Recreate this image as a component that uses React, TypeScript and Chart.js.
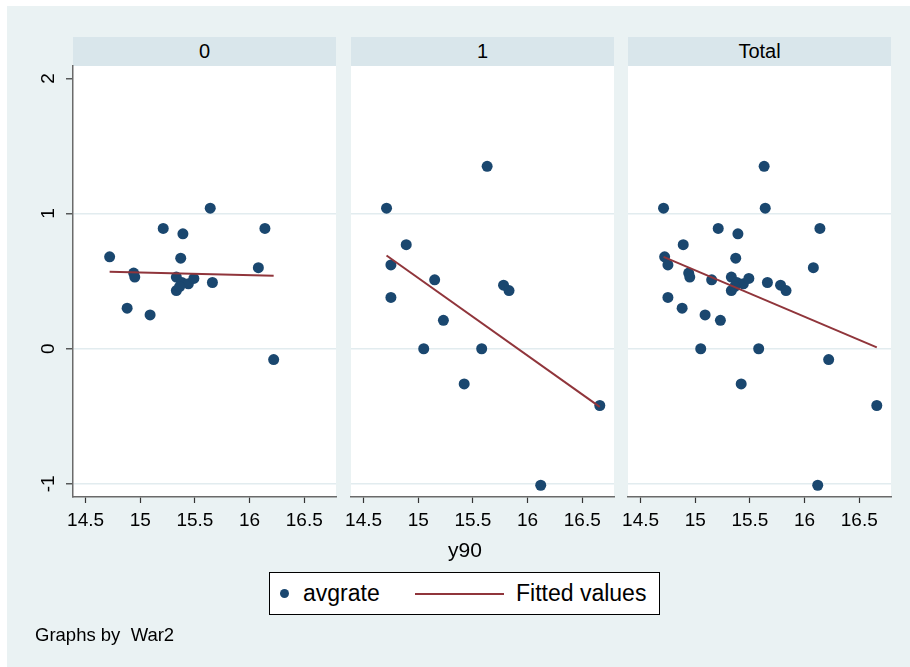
import React, { useEffect, useRef } from "react";
import { Chart, registerables } from "chart.js";

Chart.register(...registerables);

// ---------- data ----------
const GROUPS = ["0", "1", "Total"];

// War2 = 0
const G0_X = [15.64, 15.21, 15.39, 16.14, 14.72, 15.37, 16.08, 14.94, 14.95, 15.33, 15.38, 15.44, 15.49, 15.33, 15.36, 15.66, 14.88, 15.09, 16.22];
const G0_Y = [1.04, 0.89, 0.85, 0.89, 0.68, 0.67, 0.6, 0.56, 0.53, 0.53, 0.49, 0.48, 0.52, 0.43, 0.46, 0.49, 0.3, 0.25, -0.08];

// War2 = 1
const G1_X = [15.63, 14.71, 14.89, 14.75, 14.75, 15.15, 15.78, 15.83, 15.23, 15.05, 15.58, 15.42, 16.66, 16.12];
const G1_Y = [1.35, 1.04, 0.77, 0.62, 0.38, 0.51, 0.47, 0.43, 0.21, 0.0, 0.0, -0.26, -0.42, -1.01];

// fitted values (end points of each fitted line)
const FIT0_X = [14.72, 16.22];
const FIT0_Y = [0.57, 0.54];
const FIT1_X = [14.71, 16.66];
const FIT1_Y = [0.69, -0.43];
const FITT_X = [14.71, 16.66];
const FITT_Y = [0.68, 0.01];

const X_TICKS = [14.5, 15, 15.5, 16, 16.5];
const Y_TICKS = [-1, 0, 1, 2];
const X_MIN = 14.385;
const X_MAX = 16.79;
const Y_MIN = -1.097;
const Y_MAX = 2.092;

const X_TITLE = "y90";
const LEGEND_SCATTER = "avgrate";
const LEGEND_FIT = "Fitted values";
const NOTE = "Graphs by  War2";

// ---------- style ----------
const W = 910;
const H = 667;
const FONT = "'Liberation Sans', Arial, sans-serif";
const BG = "rgb(234,242,243)";
const STRIP = "rgb(217,230,235)";
const GRID = "rgb(226,236,239)";
const NAVY = "#1a476f";
const MAROON = "#90353b";
const AXIS = "#6a6a6a";
const PANEL_LEFT = [73, 351, 628];
const PANEL_W = 263;
const PLOT_TOP = 66;
const PLOT_BOTTOM = 497;
const X_AXIS_H = 60;

const whitePlot = {
  id: "whitePlot",
  beforeDraw(chart: any) {
    const { ctx, chartArea } = chart;
    ctx.save();
    ctx.fillStyle = "#ffffff";
    ctx.fillRect(chartArea.left, chartArea.top, chartArea.right - chartArea.left, chartArea.bottom - chartArea.top);
    ctx.restore();
  },
};

function Panel({ idx }: { idx: number }) {
  const ref = useRef<HTMLCanvasElement | null>(null);
  useEffect(() => {
    const xs = idx === 0 ? G0_X : idx === 1 ? G1_X : [...G0_X, ...G1_X];
    const ys = idx === 0 ? G0_Y : idx === 1 ? G1_Y : [...G0_Y, ...G1_Y];
    const fx = idx === 0 ? FIT0_X : idx === 1 ? FIT1_X : FITT_X;
    const fy = idx === 0 ? FIT0_Y : idx === 1 ? FIT1_Y : FITT_Y;
    const pts = xs.map((x, i) => ({ x, y: ys[i] }));
    const fit = fx.map((x, i) => ({ x, y: fy[i] }));
    const left = PANEL_LEFT[idx];
    const yW = idx === 0 ? 53 : 0;
    const chart = new Chart(ref.current as HTMLCanvasElement, {
      type: "scatter",
      data: {
        datasets: [
          {
            label: LEGEND_FIT,
            data: fit,
            showLine: true,
            borderColor: MAROON,
            borderWidth: 2,
            pointRadius: 0,
            pointHoverRadius: 0,
          } as any,
          {
            label: LEGEND_SCATTER,
            data: pts,
            backgroundColor: NAVY,
            borderColor: NAVY,
            borderWidth: 0,
            pointRadius: 5.5,
          },
        ],
      },
      options: {
        animation: false,
        responsive: false,
        maintainAspectRatio: false,
        events: [],
        layout: {
          padding: {
            left: left - yW,
            right: W - left - PANEL_W,
            top: PLOT_TOP,
            bottom: H - PLOT_BOTTOM - X_AXIS_H,
          },
        },
        plugins: {
          legend: { display: false },
          tooltip: { enabled: false },
          title: { display: false },
        },
        scales: {
          x: {
            type: "linear",
            position: "bottom",
            min: X_MIN,
            max: X_MAX,
            afterBuildTicks: (s: any) => {
              s.ticks = X_TICKS.map((v) => ({ value: v }));
            },
            afterFit: (s: any) => {
              s.height = X_AXIS_H;
            },
            grid: {
              drawOnChartArea: false,
              drawTicks: true,
              tickLength: 6,
              tickWidth: 1.2,
              tickColor: "#333",
            },
            border: { display: true, color: AXIS, width: 1.5 },
            ticks: {
              font: { family: FONT, size: 19 },
              color: "#000",
              padding: 6,
              maxRotation: 0,
              minRotation: 0,
              autoSkip: false,
              callback: (v: any) => String(v),
            },
          },
          y: {
            type: "linear",
            position: "left",
            min: Y_MIN,
            max: Y_MAX,
            afterBuildTicks: (s: any) => {
              s.ticks = Y_TICKS.map((v) => ({ value: v }));
            },
            afterFit: (s: any) => {
              s.width = yW;
            },
            grid: {
              drawOnChartArea: true,
              color: (c: any) => (c.tick && c.tick.value === 2 ? "rgba(0,0,0,0)" : GRID),
              lineWidth: 1.6,
              drawTicks: idx === 0,
              tickLength: idx === 0 ? 7 : 0,
              tickColor: "#333",
              tickWidth: 1.2,
            },
            border: { display: idx === 0, color: AXIS, width: 1.5 },
            ticks: {
              display: idx === 0,
              font: { family: FONT, size: 19 },
              color: "#000",
              padding: 9,
              minRotation: 90,
              maxRotation: 90,
              crossAlign: "center",
              autoSkip: false,
              callback: (v: any) => String(v),
            },
          },
        },
      },
      plugins: [whitePlot],
    });
    return () => chart.destroy();
  }, [idx]);
  return (
    <canvas
      ref={ref}
      width={W}
      height={H}
      style={{ position: "absolute", left: 0, top: 0, width: W, height: H }}
    />
  );
}

export default function App() {
  return (
    <div
      style={{
        position: "absolute",
        left: 0,
        top: 0,
        width: W,
        height: H,
        background: "#fff",
        overflow: "hidden",
        fontFamily: FONT,
        color: "#000",
      }}
    >
      <div style={{ position: "absolute", left: 7, top: 6, right: 0, bottom: 0, background: BG }} />
      {GROUPS.map((g, i) => (
        <div
          key={"s" + i}
          style={{
            position: "absolute",
            left: PANEL_LEFT[i],
            top: 37,
            width: PANEL_W,
            height: 29,
            background: STRIP,
            textAlign: "center",
            lineHeight: "29px",
            fontSize: 20,
          }}
        >
          {g}
        </div>
      ))}
      {GROUPS.map((g, i) => (
        <Panel key={"p" + i} idx={i} />
      ))}
      <div
        style={{
          position: "absolute",
          left: 405,
          top: 538,
          width: 120,
          height: 24,
          lineHeight: "24px",
          textAlign: "center",
          fontSize: 21,
        }}
      >
        {X_TITLE}
      </div>
      <div
        style={{
          position: "absolute",
          left: 269,
          top: 572,
          width: 391,
          height: 43,
          boxSizing: "border-box",
          border: "1px solid #000",
          background: "#fff",
        }}
      >
        <div
          style={{
            position: "absolute",
            left: 10,
            top: 16,
            width: 9,
            height: 9,
            borderRadius: "50%",
            background: NAVY,
          }}
        />
        <div
          style={{
            position: "absolute",
            left: 33,
            top: 0,
            height: 41,
            lineHeight: "41px",
            fontSize: 23,
            whiteSpace: "pre",
          }}
        >
          {LEGEND_SCATTER}
        </div>
        <div
          style={{
            position: "absolute",
            left: 145,
            top: 19.5,
            width: 89,
            height: 2,
            background: MAROON,
          }}
        />
        <div
          style={{
            position: "absolute",
            left: 246,
            top: 0,
            height: 41,
            lineHeight: "41px",
            fontSize: 23,
            whiteSpace: "pre",
          }}
        >
          {LEGEND_FIT}
        </div>
      </div>
      <div
        style={{
          position: "absolute",
          left: 35,
          top: 624,
          height: 22,
          lineHeight: "22px",
          fontSize: 18.5,
          whiteSpace: "pre",
        }}
      >
        {NOTE}
      </div>
    </div>
  );
}
